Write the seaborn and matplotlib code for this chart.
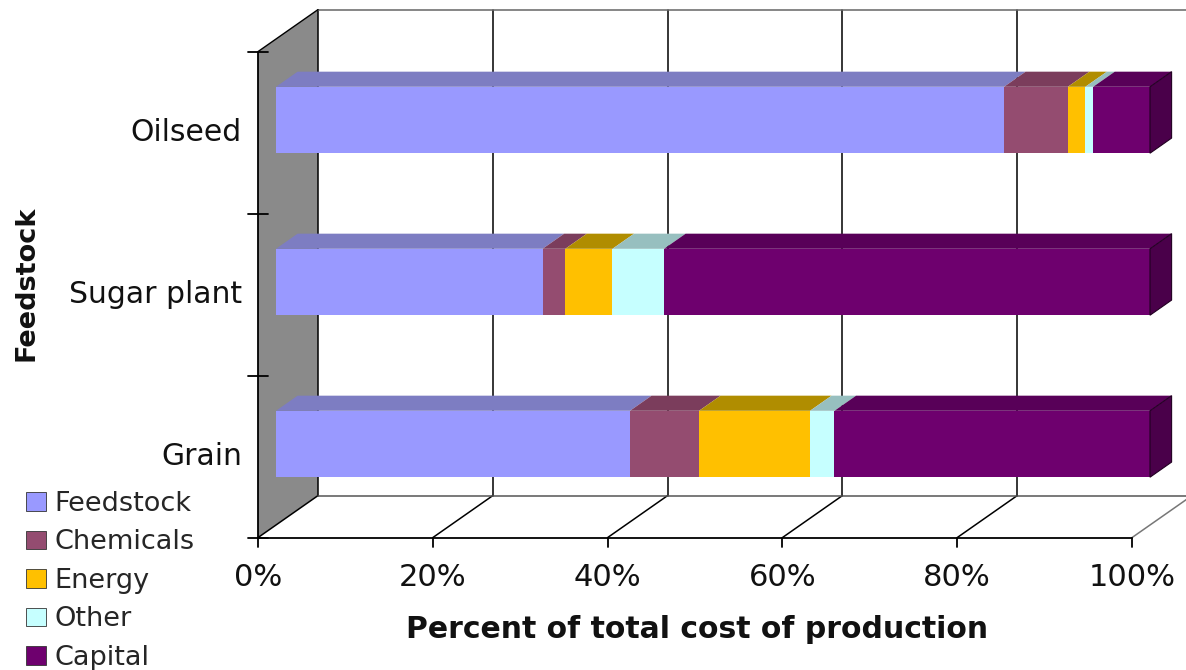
import matplotlib
matplotlib.use("Agg")
import matplotlib.pyplot as plt
from matplotlib.patches import Polygon, Patch
import pandas as pd
import seaborn as sns

# ---- data -------------------------------------------------------------
categories = ["Oilseed", "Sugar plant", "Grain"]
components = ["Feedstock", "Chemicals", "Energy", "Other", "Capital"]
feedstock = [83.3, 30.5, 40.5]
chemicals = [7.3, 2.6, 7.9]
energy = [2.0, 5.4, 12.7]
other = [0.9, 5.9, 2.8]
capital = [6.5, 55.6, 36.1]
x_ticks = [0, 20, 40, 60, 80, 100]
x_tick_labels = ["0%", "20%", "40%", "60%", "80%", "100%"]

front_colors = ["#9999FF", "#944C70", "#FFC000", "#C6FFFF", "#6E006E"]
top_colors = ["#7D7DC2", "#7B3D5C", "#B08D00", "#97BFBF", "#580058"]
side_color = "#4A004A"

# ---- figure / pseudo-3D geometry --------------------------------------
W, H, DPI = 1186, 670, 100
PX_PER_PCT = 8.74      # horizontal scale of the bar front plane
X0_PX, Y0_PX = 276, 120  # where 0 % / first row sit on the bar front plane
ROW_PX = 162
BAR_H = 0.41
DEPTH_DX = 60 / PX_PER_PCT   # full depth of the box, in data units
DEPTH_DY = -42 / ROW_PX
BAR_D0, BAR_D1 = 0.30, 0.66  # bars occupy this slice of the depth


def P(x, y, d):
    """Project a point (value, row, depth) into the axes' data space."""
    return (x + DEPTH_DX * (d - BAR_D0), y + DEPTH_DY * (d - BAR_D0))


sns.set_style("white")
plt.rcParams["font.family"] = ["DejaVu Sans"]

fig = plt.figure(figsize=(W / DPI, H / DPI), dpi=DPI)
ax = fig.add_axes([0, 0, 1, 1])

df = pd.DataFrame({"Feedstock type": categories,
                   "Feedstock": feedstock, "Chemicals": chemicals,
                   "Energy": energy, "Other": other, "Capital": capital})
cum = df[components].cumsum(axis=1)
start = cum.shift(axis=1).fillna(0)

# stacked front faces: draw the longest cumulative layer first
for comp, col in reversed(list(zip(components, front_colors))):
    sns.barplot(x=cum[comp], y=df["Feedstock type"], orient="h", order=categories,
                color=col, saturation=1, width=BAR_H, linewidth=0, ax=ax, zorder=2)

ax.set_xlim(-X0_PX / PX_PER_PCT, (W - X0_PX) / PX_PER_PCT)
ax.set_ylim((H - Y0_PX) / ROW_PX, -Y0_PX / ROW_PX)
ax.set_axis_off()

y_top, y_bot = -0.5, len(categories) - 0.5

# side wall, back wall and floor
ax.add_patch(Polygon([P(0, y_top, 0), P(0, y_bot, 0), P(0, y_bot, 1), P(0, y_top, 1)],
                     closed=True, facecolor="#8A8A8A", edgecolor="none", zorder=0.2))
for t in x_ticks:
    xa, ya = P(t, y_top, 1)
    xb, yb = P(t, y_bot, 1)
    ax.plot([xa, xb], [ya, yb], color="black", lw=1.1, zorder=0.5)
    xc, yc = P(t, y_bot, 0)
    ax.plot([xc, xb], [yc, yb], color="#777777" if t == 100 else "black", lw=1.1, zorder=0.5)
for yy, c in [(y_top, "#666666"), (y_bot, "#555555")]:
    xa, ya = P(0, yy, 1)
    xb, yb = P(100, yy, 1)
    ax.plot([xa, xb], [ya, yb], color=c, lw=1.1, zorder=0.5)

# front axes lines and ticks
xa, ya = P(0, y_bot, 0)
xb, yb = P(100, y_bot, 0)
ax.plot([xa, xb], [ya, yb], color="black", lw=1.3, zorder=3)
xa, ya = P(0, y_top, 0)
ax.plot([xa, xa], [ya, P(0, y_bot, 0)[1]], color="black", lw=1.3, zorder=3)
xb, yb = P(0, y_top, 1)
ax.plot([xa, xb], [ya, yb], color="black", lw=1.0, zorder=3)
tick_dx = 10 / PX_PER_PCT
for b in [y_top + k for k in range(len(categories) + 1)]:
    x0, y0 = P(0, b, 0)
    ax.plot([x0 - tick_dx, x0 + tick_dx], [y0, y0], color="black", lw=1.3, zorder=3)
for t, lab in zip(x_ticks, x_tick_labels):
    x0, y0 = P(t, y_bot, 0)
    ax.plot([x0, x0], [y0, y0 + 9 / ROW_PX], color="black", lw=1.3, zorder=3)
    ax.text(x0, y0 + 40 / ROW_PX, lab, ha="center", va="center", fontsize=22, color="#111111")

for i, cat in enumerate(categories):
    x0, y0 = P(0, i, 0)
    ax.text(x0 - 16 / PX_PER_PCT, y0, cat, ha="right", va="center", fontsize=21.5, color="#111111")

# top faces of every segment, right face of the last one
for i in range(len(categories)):
    yt = i - BAR_H / 2
    yb_ = i + BAR_H / 2
    for j, comp in enumerate(components):
        l, r = start.loc[i, comp], cum.loc[i, comp]
        ax.add_patch(Polygon([P(l, yt, BAR_D0), P(r, yt, BAR_D0), P(r, yt, BAR_D1), P(l, yt, BAR_D1)],
                             closed=True, facecolor=top_colors[j], edgecolor="none", zorder=2.5))
    end = cum.loc[i, components[-1]]
    ax.add_patch(Polygon([P(end, yt, BAR_D0), P(end, yb_, BAR_D0), P(end, yb_, BAR_D1), P(end, yt, BAR_D1)],
                         closed=True, facecolor=side_color, edgecolor="#220022", lw=0.8, zorder=2.5))

# titles
fig.text(697 / W, 1 - 630 / H, "Percent of total cost of production", ha="center", va="center",
         fontsize=21.5, fontweight="bold", color="#111111")
fig.text(27 / W, 1 - 283 / H, "Feedstock", ha="center", va="center", rotation=90,
         fontsize=19.5, fontweight="bold", color="#111111")

# legend
handles = [Patch(facecolor=c, edgecolor="#333333", lw=0.6) for c in front_colors]
fig.legend(handles, components, loc="upper left", bbox_to_anchor=(26 / W, 1 - 491 / H),
           frameon=False, fontsize=19.5, handlelength=0.74, handleheight=0.68,
           handletextpad=0.3, labelspacing=0.46, borderpad=0, borderaxespad=0)

fig.savefig("out.png", dpi=DPI)
